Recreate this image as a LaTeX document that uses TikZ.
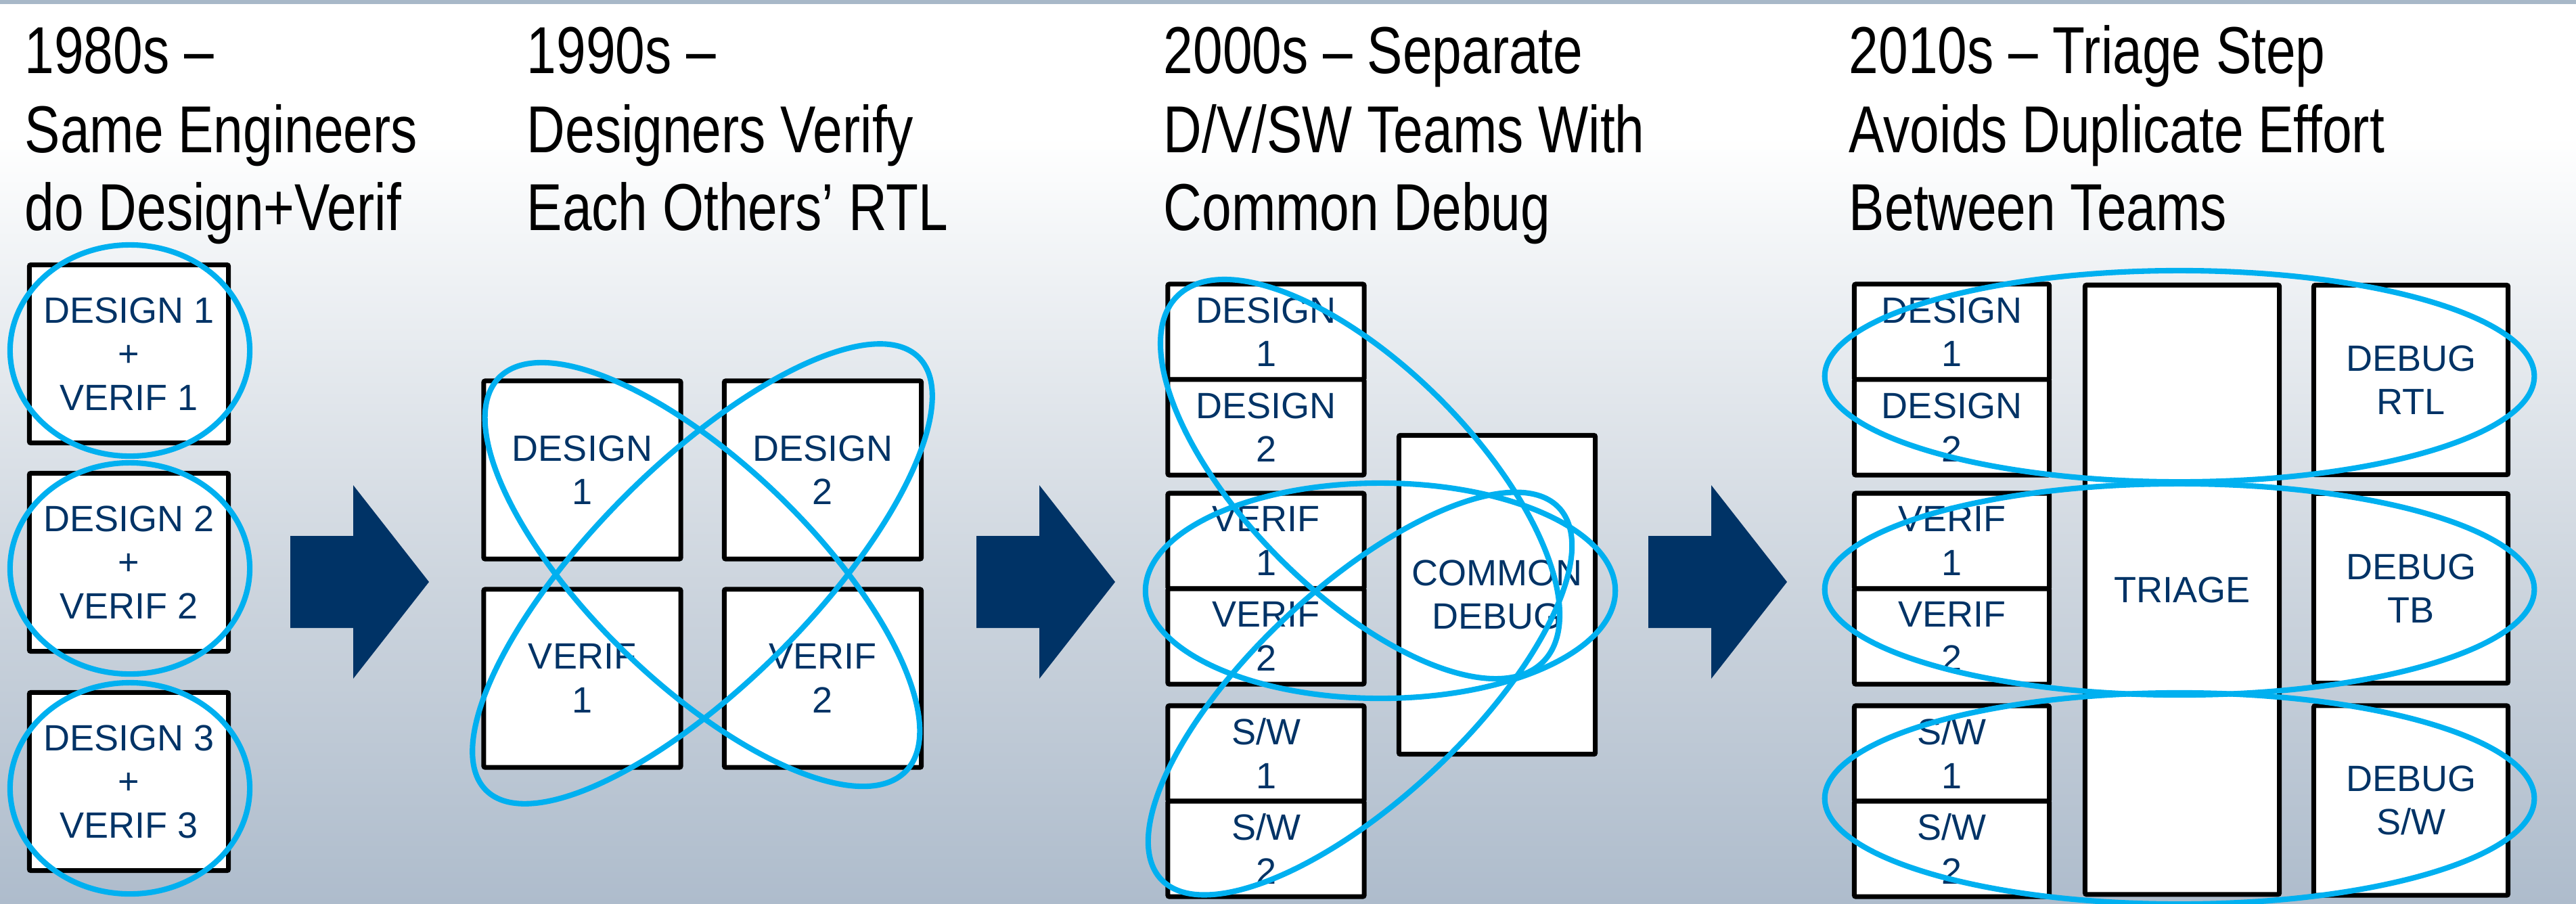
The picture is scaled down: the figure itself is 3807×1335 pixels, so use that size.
\documentclass[tikz,border=0pt]{standalone}
\usepackage{fontspec}
\setmainfont{Liberation Sans}
\newfontfamily\titlefont[FakeStretch=0.8]{Liberation Sans}
\definecolor{navy}{HTML}{003366}
\definecolor{ring}{HTML}{00B0F0}
\definecolor{strip}{HTML}{A8B8C8}
\definecolor{bgbot}{RGB}{174,188,204}
\definecolor{bgmid}{RGB}{205,213,222}
\definecolor{bglight}{RGB}{238,241,244}
% vertical backdrop: white at the top, blue-grey at the bottom
\pgfdeclareverticalshading{backdrop}{100bp}{color(0bp)=(bgbot); color(25bp)=(bgbot); color(42.8bp)=(bgmid); color(59.5bp)=(bglight); color(67.5bp)=(white); color(100bp)=(white)}
\begin{document}
\begin{tikzpicture}[x=0.01cm, y=-0.01cm,
  title/.style={anchor=base west, inner sep=0pt, font=\titlefont\fontsize{27.9pt}{32pt}\selectfont, text=black},
  box/.style={draw=black, line width=2pt, fill=white, rounded corners=0.6pt, inner sep=0pt,
    align=center, text=navy, font=\fontsize{15.36pt}{18.35pt}\selectfont},
  ringline/.style={draw=ring, line width=2.3pt},
  stagearrow/.pic={\fill[navy] (0,-68) -- (93,-68) -- (93,-143) -- (205,0) -- (93,143) -- (93,68) -- (0,68) -- cycle;}
]
\path[use as bounding box] (0,0) rectangle (3807,1335);
\clip (0,0) rectangle (3807,1335);
\shade[shading=backdrop] (0,0) rectangle (3807,1335);
\fill[strip] (0,0) rectangle (3807,6);

% ---- headings ----
\node[title] (t1a) at (36,108) {1980s –};
\node[title] (t1b) at (36,225) {Same Engineers};
\node[title] (t1c) at (36,340) {do Design+Verif};
\node[title] (t2a) at (778,108) {1990s –};
\node[title] (t2b) at (778,225) {Designers Verify};
\node[title] (t2c) at (778,340) {Each Others’ RTL};
\node[title] (t3a) at (1719,108) {2000s – Separate};
\node[title] (t3b) at (1719,225) {D/V/SW Teams With};
\node[title] (t3c) at (1719,340) {Common Debug};
\node[title] (t4a) at (2732,108) {2010s – Triage Step};
\node[title] (t4b) at (2732,225) {Avoids Duplicate Effort};
\node[title] (t4c) at (2732,340) {Between Teams};

% ---- stage arrows ----
\pic at (429,860) {stagearrow};
\pic at (1443,860) {stagearrow};
\pic at (2436,860) {stagearrow};

% ---- 1980s ----
\begin{scope}[box/.append style={minimum width=2.94cm, minimum height=2.63cm}]
\node[box] (a1) at (190.5,523) {DESIGN 1\\+\\VERIF 1};
\node[box] (a2) at (190.5,831) {DESIGN 2\\+\\VERIF 2};
\node[box] (a3) at (190.5,1155) {DESIGN 3\\+\\VERIF 3};
\end{scope}

% ---- 1990s ----
\begin{scope}[box/.append style={minimum width=2.91cm, minimum height=2.63cm}]
\node[box] (bd1) at (860.5,694.5) {DESIGN\\1};
\node[box] (bd2) at (1216,694.5) {DESIGN\\2};
\node[box] (bv1) at (860.5,1002.5) {VERIF\\1};
\node[box] (bv2) at (1216,1002.5) {VERIF\\2};
\end{scope}

% ---- 2000s ----
\begin{scope}[box/.append style={minimum width=2.90cm, minimum height=1.41cm}]
\node[box] (cd1) at (1871,490.5) {DESIGN\\1};
\node[box] (cd2) at (1871,631.5) {DESIGN\\2};
\node[box] (cv1) at (1871,799.5) {VERIF\\1};
\node[box] (cv2) at (1871,940.5) {VERIF\\2};
\node[box] (cs1) at (1871,1113.5) {S/W\\1};
\node[box] (cs2) at (1871,1254.5) {S/W\\2};
\end{scope}
\node[box, minimum width=2.90cm, minimum height=4.71cm] (cdbg) at (2212.5,879) {COMMON\\DEBUG};

% ---- 2010s ----
\begin{scope}[box/.append style={minimum width=2.88cm, minimum height=1.41cm}]
\node[box] (dd1) at (2884.5,490.5) {DESIGN\\1};
\node[box] (dd2) at (2884.5,631.5) {DESIGN\\2};
\node[box] (dv1) at (2884.5,799.5) {VERIF\\1};
\node[box] (dv2) at (2884.5,940.5) {VERIF\\2};
\node[box] (ds1) at (2884.5,1113.5) {S/W\\1};
\node[box] (ds2) at (2884.5,1254.5) {S/W\\2};
\end{scope}
\node[box, minimum width=2.87cm, minimum height=9.0cm] (tri) at (3225,871.5) {TRIAGE};
\begin{scope}[box/.append style={minimum width=2.87cm, minimum height=2.80cm}]
\node[box] (rtl) at (3563,561.5) {DEBUG\\RTL};
\node[box] (tb) at (3563,869.5) {DEBUG\\TB};
\node[box] (sw) at (3563,1183) {DEBUG\\S/W};
\end{scope}

% ---- team groupings ----
\draw[ringline] (192,518) ellipse [x radius=1.77cm, y radius=1.56cm];
\draw[ringline] (192,840) ellipse [x radius=1.77cm, y radius=1.56cm];
\draw[ringline] (192,1165) ellipse [x radius=1.77cm, y radius=1.56cm];

\draw[ringline, rotate around={-44:(1038,849)}] (1038,849) ellipse [x radius=4.18cm, y radius=1.62cm];
\draw[ringline, rotate around={45:(1038,848)}] (1038,848) ellipse [x radius=4.52cm, y radius=1.62cm];

\draw[ringline, rotate around={-45:(2010,708)}] (2010,708) ellipse [x radius=3.82cm, y radius=1.67cm];
\draw[ringline] (2040,873) ellipse [x radius=3.47cm, y radius=1.59cm];
\draw[ringline, rotate around={43:(2010,1025)}] (2010,1025) ellipse [x radius=4.02cm, y radius=1.57cm];

\draw[ringline] (3221,556) ellipse [x radius=5.24cm, y radius=1.56cm];
\draw[ringline] (3221,871) ellipse [x radius=5.24cm, y radius=1.56cm];
\draw[ringline] (3221,1180) ellipse [x radius=5.24cm, y radius=1.56cm];
\end{tikzpicture}
\end{document}
